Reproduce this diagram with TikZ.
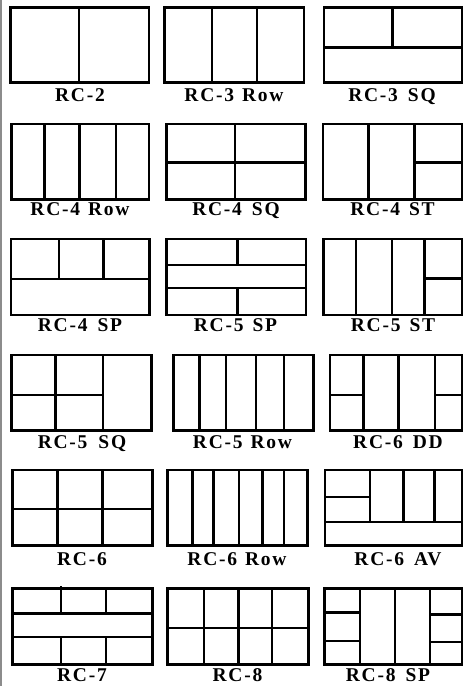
\documentclass[tikz,border=0pt]{standalone}
\usepackage{fontspec}
\setmainfont{Liberation Serif}[LetterSpace=9]
\begin{document}
\begin{tikzpicture}[x=1pt,y=-1pt,
  frame/.style={line width=2.6pt, line join=miter},
  div/.style={line width=2.4pt},
  lbl/.style={anchor=base, inner sep=0pt, font=\fontsize{19.5}{21}\selectfont\bfseries}]
\useasboundingbox (0,0) rectangle (466,686);
\fill[white] (0,0) rectangle (466,686);
\draw[line width=2pt, gray!90] (1,0) -- (1,686);
% ---------- Row 1
\draw[frame] (10.5,7.5) rectangle (149,82.7);
\draw[div] (79,7.5) -- (79,82.7);
\node[lbl] (l1) at (80,101.7) {RC-2};
\draw[frame] (164.2,7.5) rectangle (304,82.7);
\draw[div] (211.7,7.5) -- (211.7,82.7) (256.7,7.5) -- (256.7,82.7);
\node[lbl] (l2) at (234,101.7) {RC-3\hspace{8pt}Row};
\draw[frame] (324,7.5) rectangle (462,82.7);
\draw[div] (324,47.3) -- (462,47.3) (392.3,7.5) -- (392.3,47.3);
\node[lbl] (l3) at (392,101.7) {RC-3\hspace{10pt}SQ};
% ---------- Row 2
\draw[frame] (11.3,124) rectangle (149,199.3);
\draw[div] (44.3,124) -- (44.3,199.3) (79.3,124) -- (79.3,199.3) (116,124) -- (116,199.3);
\node[lbl] (l4) at (80,215) {RC-4\hspace{8pt}Row};
\draw[frame] (166.3,124) rectangle (305.7,199.3);
\draw[div] (166.3,162.3) -- (305.7,162.3) (235,124) -- (235,199.3);
\node[lbl] (l5) at (236,215) {RC-4\hspace{10pt}SQ};
\draw[frame] (323,124) rectangle (462,199.3);
\draw[div] (368.3,124) -- (368.3,199.3) (414.3,124) -- (414.3,199.3) (414.3,162.3) -- (462,162.3);
\node[lbl] (l6) at (392.5,215) {RC-4\hspace{9pt}ST};
% ---------- Row 3
\draw[frame] (11,239) rectangle (149.3,315);
\draw[div] (11,279) -- (149.3,279) (58.7,239) -- (58.7,279) (103.3,239) -- (103.3,279);
\node[lbl] (l7) at (80,331) {RC-4\hspace{10pt}SP};
\draw[frame] (166.7,239) rectangle (306,315);
\draw[div] (166.7,265) -- (306,265) (166.7,287.7) -- (306,287.7)
  (237.3,239) -- (237.3,265) (237.3,287.7) -- (237.3,315);
\node[lbl] (l8) at (235.5,331) {RC-5\hspace{9pt}SP};
\draw[frame] (323.3,239) rectangle (462,315);
\draw[div] (356,239) -- (356,315) (391.7,239) -- (391.7,315) (424.3,239) -- (424.3,315)
  (424.3,278.3) -- (462,278.3);
\node[lbl] (l9) at (393,331) {RC-5\hspace{9pt}ST};
% ---------- Row 4
\draw[frame] (11.7,355) rectangle (151.7,430.7);
\draw[div] (55.3,355) -- (55.3,430.7) (102.7,355) -- (102.7,430.7) (11.7,395) -- (102.7,395);
\node[lbl] (l10) at (82,448.3) {RC-5\hspace{11pt}SQ};
\draw[frame] (173.3,355) rectangle (313.3,430.7);
\draw[div] (199.3,355) -- (199.3,430.7) (226,355) -- (226,430.7) (256,355) -- (256,430.7)
  (284,355) -- (284,430.7);
\node[lbl] (l11) at (242.5,448.3) {RC-5\hspace{8pt}Row};
\draw[frame] (330,355) rectangle (462,430.7);
\draw[div] (363.3,355) -- (363.3,430.7) (398.3,355) -- (398.3,430.7) (435,355) -- (435,430.7)
  (330,395) -- (363.3,395) (435,395) -- (462,395);
\node[lbl] (l12) at (398,448.3) {RC-6\hspace{10pt}DD};
% ---------- Row 5
\draw[frame] (12.7,470) rectangle (152.7,545.7);
\draw[div] (12.7,509) -- (152.7,509) (57.3,470) -- (57.3,545.7) (102.3,470) -- (102.3,545.7);
\node[lbl] (l13) at (82,565.7) {RC-6};
\draw[frame] (167.3,470) rectangle (307.3,545.7);
\draw[div] (192.3,470) -- (192.3,545.7) (213.3,470) -- (213.3,545.7) (239,470) -- (239,545.7)
  (262.3,470) -- (262.3,545.7) (284,470) -- (284,545.7);
\node[lbl] (l14) at (237,565.7) {RC-6\hspace{8pt}Row};
\draw[frame] (325,470) rectangle (462,545.7);
\draw[div] (325,521.7) -- (462,521.7) (370,470) -- (370,521.7) (403.3,470) -- (403.3,521.7)
  (434.3,470) -- (434.3,521.7) (324,496.7) -- (370,496.7);
\node[lbl] (l15) at (398,565.7) {RC-6\hspace{10pt}AV};
% ---------- Row 6
\draw[frame] (12.7,588.3) rectangle (152.7,664.3);
\draw[div] (12.7,613.3) -- (152.7,613.3) (12.7,636.7) -- (152.7,636.7)
  (60.7,586) -- (60.7,613.3) (106,588.3) -- (106,613.3)
  (60.7,636.7) -- (60.7,664.3) (106,636.7) -- (106,664.3);
\node[lbl] (l16) at (82,681.7) {RC-7};
\draw[frame] (167.3,588.3) rectangle (308.3,664.3);
\draw[div] (167.3,627.7) -- (308.3,627.7) (204,588.3) -- (204,664.3) (238.3,588.3) -- (238.3,664.3)
  (271.7,588.3) -- (271.7,664.3);
\node[lbl] (l17) at (237.5,681.7) {RC-8};
\draw[frame] (324.3,588.3) rectangle (462,664.3);
\draw[div] (360,588.3) -- (360,664.3) (395,588.3) -- (395,664.3) (430,588.3) -- (430,664.3)
  (324.3,612.3) -- (360,612.3) (324.3,641) -- (360,641)
  (430,614.3) -- (462,614.3) (430,641.7) -- (462,641.7);
\node[lbl] (l18) at (388,681.7) {RC-8\hspace{10pt}SP};
\end{tikzpicture}
\end{document}
